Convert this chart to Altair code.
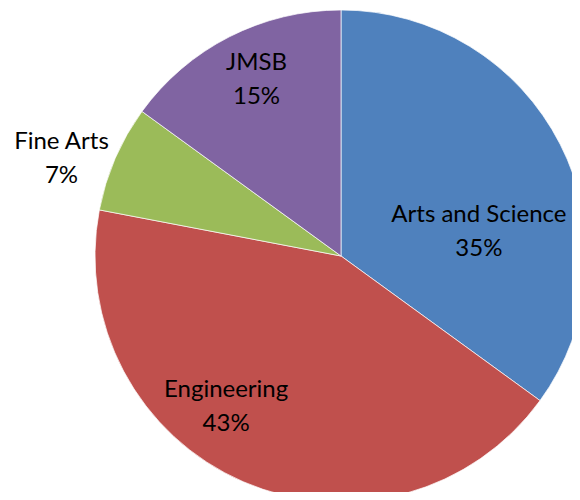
import altair as alt
import pandas as pd
import math

categories = ["Arts and Science", "Engineering", "Fine Arts", "JMSB"]
shares = [35, 43, 7, 15]
colors = ["#4F81BD", "#C0504D", "#9BBB59", "#8064A2"]

df = pd.DataFrame({"category": categories, "share": shares, "order": list(range(len(categories)))})

W, H = 564, 484
CX, CY = 333, 248
R = 246

color_scale = alt.Scale(domain=categories, range=colors)
theta_scale = alt.Scale(domain=[0, 100], range=[0, 2 * math.pi])

pie = alt.Chart(df).mark_arc(radius=R, stroke="#ffffff", strokeWidth=0.7).encode(
    theta=alt.Theta("share:Q", stack=True, scale=theta_scale),
    order=alt.Order("order:Q"),
    color=alt.Color("category:N", scale=color_scale, legend=None),
    x=alt.value(CX),
    y=alt.value(CY),
)

# per-label placement (radius, angular offset) mimicking Excel best-fit labels
label_place = {
    "Arts and Science": (140, 0.298),
    "Engineering": (190, 0.241),
    "Fine Arts": (296, -0.073),
    "JMSB": (195, 0.023),
}

text_base = alt.Chart(df).transform_window(
    cum="sum(share)", sort=[alt.SortField("order")], frame=[None, 0]
).transform_calculate(
    mid="datum.cum - datum.share / 2",
    label="datum.category + '\\n' + datum.share + '%'",
)

layers = [pie]
for cat, (rad, toff) in label_place.items():
    t = text_base.transform_filter(
        alt.datum.category == cat
    ).mark_text(
        radius=rad, thetaOffset=toff, font="Lato", fontSize=24,
        lineBreak="\n", lineHeight=34, color="#000000",
        align="center", baseline="middle", dy=-17,
    ).encode(
        theta=alt.Theta("mid:Q", scale=theta_scale, stack=None),
        text="label:N",
        x=alt.value(CX),
        y=alt.value(CY),
    )
    layers.append(t)

chart = alt.layer(*layers).properties(
    width=W, height=H, padding=0, autosize=alt.AutoSizeParams(type="none")
).configure_view(stroke=None)

chart.save("out.html", embed_options={"renderer": "svg", "actions": False})
